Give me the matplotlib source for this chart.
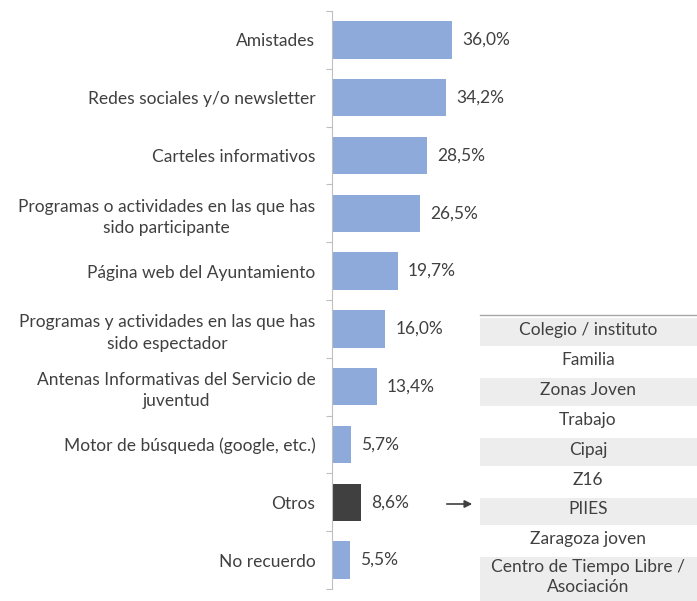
import matplotlib.pyplot as plt
from matplotlib.patches import Rectangle

plt.rcParams['font.family'] = ['Lato', 'DejaVu Sans']

categories = [
    'Amistades',
    'Redes sociales y/o newsletter',
    'Carteles informativos',
    'Programas o actividades en las que has\nsido participante',
    'Página web del Ayuntamiento',
    'Programas y actividades en las que has\nsido espectador',
    'Antenas Informativas del Servicio de\njuventud',
    'Motor de búsqueda (google, etc.)',
    'Otros',
    'No recuerdo',
]
values = [36.0, 34.2, 28.5, 26.5, 19.7, 16.0, 13.4, 5.7, 8.6, 5.5]
otros_items = [
    'Colegio / instituto', 'Familia', 'Zonas Joven', 'Trabajo', 'Cipaj',
    'Z16', 'PIIES', 'Zaragoza joven', 'Centro de Tiempo Libre /\nAsociación',
]

txt = '#404040'
fs = 12.5
W, H = 697, 601
fig = plt.figure(figsize=(W / 100, H / 100), dpi=100)
ax = fig.add_axes([332 / W, 12 / H, 121 / W, 578 / H])

colors = ['#404040' if c == 'Otros' else '#8eaadb' for c in categories]
y = list(range(len(categories)))
ax.barh(y, values, height=0.65, color=colors)
ax.set_xlim(0, 36.3)
ax.set_ylim(len(categories) - 0.5, -0.5)

for yi, v in zip(y, values):
    ax.text(v + 3, yi, f'{v:.1f}%'.replace('.', ','), va='center', ha='left',
            fontsize=fs, color=txt, clip_on=False)

ax.set_yticks(y)
ax.set_yticklabels(categories, fontsize=fs, color=txt, ha='right',
                   multialignment='center', linespacing=1.4)
ax.tick_params(axis='y', length=0, pad=12)

ax.set_yticks([i + 0.5 for i in range(-1, len(categories))], minor=True)
ax.tick_params(axis='y', which='minor', length=4, color='#bfbfbf', width=0.8)
ax.set_xticks([])
for s in ['top', 'right', 'bottom']:
    ax.spines[s].set_visible(False)
ax.spines['left'].set_color('#bfbfbf')
ax.spines['left'].set_linewidth(0.8)

# table of "Otros" answers
edges = [316, 346, 376, 406, 436, 466, 496, 525, 555, 601]
for i, item in enumerate(otros_items):
    top, bot = edges[i], edges[i + 1]
    if i % 2 == 0:
        fig.add_artist(Rectangle((480 / W, 1 - bot / H), 217 / W, (bot - top - 2) / H,
                                 transform=fig.transFigure, facecolor='#ededed',
                                 edgecolor='none'))
    fig.text(588 / W, 1 - (top + bot - 2) / 2 / H, item, ha='center', va='center',
             fontsize=fs, color=txt, multialignment='center', linespacing=1.35)
fig.add_artist(plt.Line2D([480 / W, 1], [1 - 315 / H, 1 - 315 / H],
                          transform=fig.transFigure, color='#a6a6a6', lw=1))

ax.annotate('', xy=(475 / W, 1 - 504 / H), xytext=(444 / W, 1 - 504 / H),
            xycoords='figure fraction', textcoords='figure fraction',
            arrowprops=dict(arrowstyle='-|>', color='#404040', lw=1.2,
                            mutation_scale=11))

fig.savefig('out.png', dpi=100)
